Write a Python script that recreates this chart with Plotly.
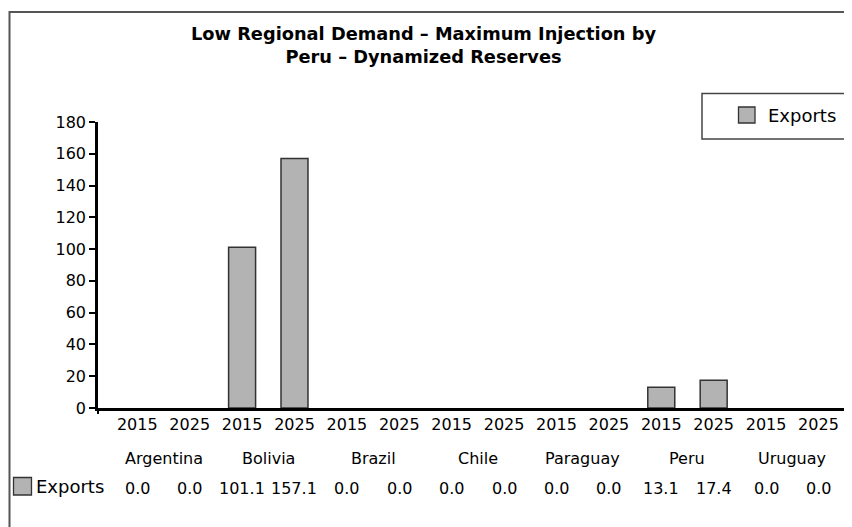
import plotly.graph_objects as go

countries = ["Argentina", "Bolivia", "Brazil", "Chile", "Paraguay", "Peru", "Uruguay"]
years = ["2015", "2025"]
exports = [0.0, 0.0, 101.1, 157.1, 0.0, 0.0, 0.0, 0.0, 0.0, 0.0, 13.1, 17.4, 0.0, 0.0]
y_ticks = [0, 20, 40, 60, 80, 100, 120, 140, 160, 180]
series_name = "Exports"
title_lines = ["Low Regional Demand – Maximum Injection by", "Peru – Dynamized Reserves"]

FONT = "'DejaVu Sans', sans-serif"
OFF = 8  # page body margin
W, H = 852 - OFF, 527 - OFF
L, R, T, B = 98 - OFF, 0, 122 - OFF, 527 - 408
PW, PH = W - L - R, H - T - B

def px_x(px):
    return (px - OFF - L) / PW

def px_y(py):
    return (H - B - (py - OFF)) / PH

idx = list(range(len(exports)))
year_labels = [years[i % 2] for i in idx]

fig = go.Figure()
fig.add_trace(go.Bar(
    x=idx, y=exports, name=series_name, width=0.515,
    marker=dict(color="#b3b3b3",
                line=dict(color="#333333", width=[1.5 if v > 0 else 0 for v in exports])),
    showlegend=False,
))

annotations = []
annotations.append(dict(
    text="<b>" + title_lines[0] + "<br>" + title_lines[1] + "</b>",
    xref="paper", yref="paper", x=px_x(423), y=px_y(21), xanchor="center", yanchor="top",
    showarrow=False, font=dict(family=FONT, size=17.8, color="#000"), align="center",
))
for k, c in enumerate(countries):
    annotations.append(dict(
        text=c, xref="x", yref="paper", x=2 * k + 0.5, y=px_y(458), xanchor="center", yanchor="middle",
        showarrow=False, font=dict(family=FONT, size=16, color="#000"),
    ))
for i, v in zip(idx, exports):
    annotations.append(dict(
        text=f"{v:.1f}", xref="x", yref="paper", x=i, y=px_y(488), xanchor="center", yanchor="middle",
        showarrow=False, font=dict(family=FONT, size=16, color="#000"),
    ))
annotations.append(dict(
    text=series_name, xref="paper", yref="paper", x=px_x(34), y=px_y(486), xanchor="left", yanchor="middle",
    showarrow=False, font=dict(family=FONT, size=18, color="#000"),
))
annotations.append(dict(
    text=series_name, xref="paper", yref="paper", x=px_x(766), y=px_y(116), xanchor="left", yanchor="middle",
    showarrow=False, font=dict(family=FONT, size=18, color="#000"),
))

shapes = [
    dict(type="rect", xref="paper", yref="paper", x0=px_x(9.5), x1=px_x(870), y0=px_y(560), y1=px_y(12),
         line=dict(color="#555555", width=2), fillcolor="rgba(0,0,0,0)", layer="below"),
    dict(type="rect", xref="paper", yref="paper", x0=px_x(702), x1=px_x(870), y0=px_y(139), y1=px_y(93.5),
         line=dict(color="#444444", width=1.5), fillcolor="white"),
    dict(type="rect", xref="paper", yref="paper", x0=px_x(738.5), x1=px_x(755), y0=px_y(123), y1=px_y(107),
         line=dict(color="#333333", width=1.3), fillcolor="#b3b3b3"),
    dict(type="rect", xref="paper", yref="paper", x0=px_x(13.5), x1=px_x(31.5), y0=px_y(495), y1=px_y(477.5),
         line=dict(color="#333333", width=1.3), fillcolor="#b3b3b3"),
    dict(type="line", xref="paper", yref="paper", x0=px_x(98), x1=px_x(98), y0=px_y(408), y1=px_y(414),
         line=dict(color="#000", width=2)),
]

fig.update_layout(
    width=W, height=H,
    margin=dict(l=L, r=R, t=T, b=B),
    paper_bgcolor="white", plot_bgcolor="white",
    font=dict(family=FONT, size=16, color="#000"),
    annotations=annotations, shapes=shapes,
)
fig.update_xaxes(
    range=[-0.75, 13.64], tickmode="array", tickvals=idx, ticktext=year_labels,
    showline=True, linecolor="#000", linewidth=2.5, ticks="", showgrid=False, zeroline=False,
    tickfont=dict(family=FONT, size=16, color="#000"), fixedrange=True,
)
fig.update_yaxes(
    range=[0, 180], tickmode="array", tickvals=y_ticks,
    showline=True, linecolor="#000", linewidth=2.5, ticks="outside", ticklen=6, tickwidth=2, tickcolor="#000",
    showgrid=False, zeroline=False, tickfont=dict(family=FONT, size=16, color="#000"), fixedrange=True,
)

fig.write_html("out.html")
